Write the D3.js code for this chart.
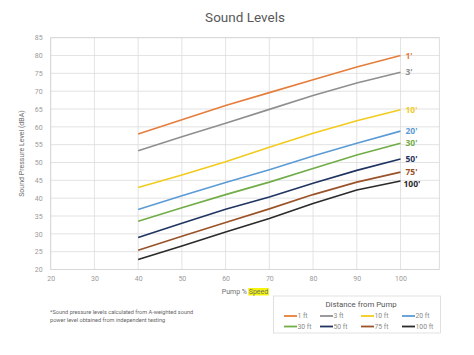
<!DOCTYPE html>
<html><head><meta charset="utf-8">
<script src="https://cdn.jsdelivr.net/npm/d3@7"></script>
<style>
body{margin:0;background:#fff;}
svg{display:block;font-family:Roboto,"Noto Sans",sans-serif;}
</style></head>
<body>
<svg id="c" width="474" height="355"></svg>
<script>
const speeds = [40, 50, 60, 70, 80, 90, 100];
const seriesNames = ["1 ft", "3 ft", "10 ft", "20 ft", "30 ft", "50 ft", "75 ft", "100 ft"];
const endLabels = ["1'", "3'", "10'", "20'", "30'", "50'", "75'", "100'"];
const s1 = [58, 62, 66, 69.6, 73.2, 76.8, 80];
const s3 = [53.3, 57.2, 61, 64.9, 68.8, 72.3, 75.3];
const s10 = [43, 46.5, 50.2, 54.3, 58.2, 61.7, 64.8];
const s20 = [36.8, 40.7, 44.4, 48, 51.8, 55.4, 58.8];
const s30 = [33.5, 37.3, 41, 44.5, 48.3, 52.1, 55.4];
const s50 = [29, 33, 36.9, 40.3, 44.2, 47.8, 51];
const s75 = [25.4, 29.3, 33.2, 37, 41, 44.5, 47.3];
const s100 = [22.8, 26.6, 30.5, 34.3, 38.5, 42.3, 44.8];
const seriesValues = [s1, s3, s10, s20, s30, s50, s75, s100];
const colors = ["#e57e3c", "#8f8f8f", "#f2cb1d", "#5b9bd5", "#71ad47", "#1f3460", "#9a5228", "#2a2a2a"];
const xTicks = [20, 30, 40, 50, 60, 70, 80, 90, 100];
const yTicks = [20, 25, 30, 35, 40, 45, 50, 55, 60, 65, 70, 75, 80, 85];

const svg = d3.select("#c");
const pL = 50.7, pR = 439.3, pT = 37.7, pB = 269.5;
const x = d3.scaleLinear().domain([20, 100]).range([pL, 400.5]);
const y = d3.scaleLinear().domain([20, 85]).range([pB, pT]);

// title
svg.append("text").attr("x", 245).attr("y", 22).attr("text-anchor", "middle")
  .attr("font-size", 13.5).attr("fill", "#595959").text("Sound Levels");

// grid
const g = svg.append("g");
g.selectAll(".hg").data(yTicks).join("line")
  .attr("x1", pL).attr("x2", pR).attr("y1", d => y(d)).attr("y2", d => y(d))
  .attr("stroke", "#dcdcdc").attr("stroke-width", 0.8);
g.selectAll(".vg").data(xTicks).join("line")
  .attr("x1", d => x(d)).attr("x2", d => x(d)).attr("y1", pT).attr("y2", pB)
  .attr("stroke", "#dcdcdc").attr("stroke-width", 0.8);
g.append("rect").attr("x", pL).attr("y", pT).attr("width", pR - pL).attr("height", pB - pT)
  .attr("fill", "none").attr("stroke", "#d4d4d4").attr("stroke-width", 0.8);

// axes (labels only)
const ya = svg.append("g").attr("transform", `translate(${pL},0)`)
  .call(d3.axisLeft(y).tickValues(yTicks).tickSize(0).tickPadding(8));
const xa = svg.append("g").attr("transform", `translate(0,${pB})`)
  .call(d3.axisBottom(x).tickValues(xTicks).tickSize(0).tickPadding(7));
[ya, xa].forEach(a => {
  a.select(".domain").remove();
  a.selectAll("text").attr("font-size", 7).attr("fill", "#9a9a9a").attr("font-family", "Roboto, sans-serif");
});

// axis titles
svg.append("text").attr("transform", `translate(24,${(pT + pB) / 2}) rotate(-90)`)
  .attr("text-anchor", "middle").attr("font-size", 7).attr("fill", "#707070")
  .text("Sound Pressure Level (dBA)");
const hlRect = svg.append("rect").attr("fill", "#f5f50a");
const xt = svg.append("text").attr("x", 245).attr("y", 293.5).attr("text-anchor", "middle")
  .attr("font-size", 7).attr("fill", "#707070");
xt.append("tspan").text("Pump % ");
const sp = xt.append("tspan").text("Speed");
{
  const bb = sp.node().getBBox();
  hlRect.attr("x", bb.x - 0.5).attr("y", bb.y + 0.5).attr("width", bb.width + 1).attr("height", bb.height - 0.5);
}

// lines
const line = d3.line().x((d, i) => x(speeds[i])).y(d => y(d));
seriesValues.forEach((vals, k) => {
  svg.append("path").datum(vals).attr("d", line).attr("fill", "none")
    .attr("stroke", colors[k]).attr("stroke-width", 1.6);
});
// end labels (small vertical nudges so neighbouring labels do not collide)
const labelDy = [0, 0, 0, 0, 0, 0, -0.5, 2.8];
const labelDx = [5, 5, 5, 5, 5, 5, 5, 3];
seriesValues.forEach((vals, k) => {
  svg.append("text").attr("x", x(100) + labelDx[k]).attr("y", y(vals[vals.length - 1]) + 3 + labelDy[k])
    .attr("font-size", 8.5).attr("font-weight", "bold").attr("fill", colors[k])
    .attr("font-family", "'Open Sans', sans-serif").text(endLabels[k]);
});

// footnote
svg.append("text").attr("x", 50).attr("y", 314).attr("font-size", 5.6).attr("fill", "#666")
  .text("*Sound pressure levels calculated from A-weighted sound");
svg.append("text").attr("x", 50).attr("y", 322).attr("font-size", 5.6).attr("fill", "#666")
  .text("power level obtained from independent testing");

// legend
const lg = svg.append("g");
lg.append("rect").attr("x", 273.5).attr("y", 296).attr("width", 167).attr("height", 37)
  .attr("fill", "#fff").attr("stroke", "#d9d9d9").attr("stroke-width", 0.8);
lg.append("text").attr("x", 361).attr("y", 306.5).attr("text-anchor", "middle")
  .attr("font-size", 7.8).attr("fill", "#555").text("Distance from Pump");
const colX = [284, 320, 361, 402];
const rowY = [316, 326.5];
seriesNames.forEach((n, k) => {
  const cx = colX[k % 4], cy = rowY[Math.floor(k / 4)];
  lg.append("line").attr("x1", cx).attr("x2", cx + 13).attr("y1", cy).attr("y2", cy)
    .attr("stroke", colors[k]).attr("stroke-width", 1.8);
  lg.append("text").attr("x", cx + 13.5).attr("y", cy + 2.4).attr("font-size", 6.8)
    .attr("fill", "#8a8a8a").text(n);
});
</script>
</body></html>
